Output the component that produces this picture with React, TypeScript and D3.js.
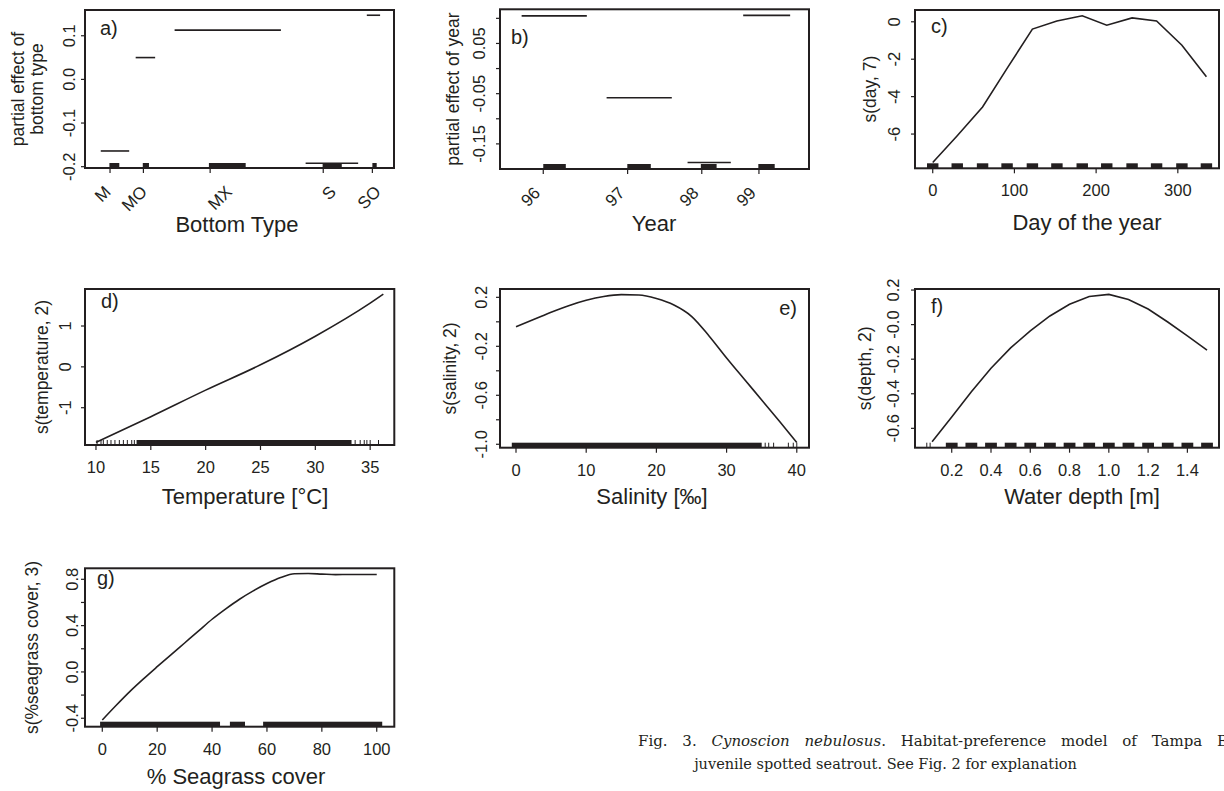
import React from "react";
import * as d3 from "d3";

const INK = "#231f20";
const SANS = "'Liberation Sans', Arial, Helvetica, sans-serif";
const SERIF = "'DejaVu Serif', serif";

// a) bottom type, x in relative position units (0-100 across the panel)
const bottomTypes = ["M", "MO", "MX", "S", "SO"];
const bottomTickPos = [8.1, 18.9, 40.5, 77.1, 93.0];
const bottomLabelPos = [8.7, 20.4, 47.9, 81.6, 96.1];
const bottomEffect = [-0.164, 0.05, 0.113, -0.192, 0.147];
const bottomSegStart = [5.1, 16.4, 29.0, 71.4, 91.2];
const bottomSegEnd = [14.3, 22.7, 63.4, 88.4, 95.5];
const bottomRugStart = [7.9, 18.7, 40.1, 76.9, 93.0];
const bottomRugEnd = [11.1, 20.7, 52.0, 83.1, 94.4];

// b) year
const years = ["96", "97", "98", "99"];
const yearTickPos = [14.0, 41.3, 65.3, 83.8];
const yearEffect = [0.105, -0.058, -0.187, 0.106];
const yearSegStart = [7.0, 34.5, 60.7, 78.7];
const yearSegEnd = [28.1, 55.6, 74.7, 93.9];
const yearRugStart = [14.0, 41.2, 65.0, 83.6];
const yearRugEnd = [21.3, 48.8, 70.1, 88.9];

// c) day of the year
const dayOfYear = [0, 30, 61, 91, 122, 152, 183, 213, 244, 274, 305, 335];
const dayEffect = [-7.52, -6.09, -4.55, -2.49, -0.39, 0.04, 0.32, -0.18, 0.21, 0.04, -1.25, -2.94];

// d) temperature
const tempX = [10, 15, 20, 25, 30, 35, 36.2];
const tempY = [-1.85, -1.22, -0.57, 0.05, 0.75, 1.56, 1.78];
const tempRugBands = [[13.7, 33.3]];
const tempRugTicks = [10.1, 10.46, 10.67, 11.03, 11.37, 11.73, 12.13, 12.5, 12.86, 13.26, 13.5,
  33.63, 34.09, 34.46, 34.7, 35.0, 35.76];

// e) salinity
const salX = [0, 2.5, 5, 7.5, 10, 12.5, 15, 17.5, 20, 22.5, 25, 27.5, 30, 32.5, 35, 37.5, 40];
const salY = [-0.04, 0.018, 0.078, 0.132, 0.176, 0.207, 0.222, 0.219, 0.19, 0.137, 0.045, -0.115,
  -0.295, -0.467, -0.638, -0.81, -0.985];
const salRugBands = [[-0.6, 35.0]];
const salRugTicks = [35.5, 36.0, 36.7, 38.8, 39.5, 40.0];

// f) water depth
const depthX = [0.1, 0.2, 0.3, 0.4, 0.5, 0.6, 0.7, 0.8, 0.9, 1.0, 1.1, 1.2, 1.3, 1.4, 1.5];
const depthY = [-0.678, -0.535, -0.388, -0.252, -0.135, -0.036, 0.05, 0.118, 0.163, 0.175, 0.145,
  0.09, 0.015, -0.065, -0.147];
const depthRugCenters = [0.2, 0.3, 0.4, 0.5, 0.6, 0.7, 0.8, 0.9, 1.0, 1.1, 1.2, 1.3, 1.4, 1.5];
const depthRugTicks = [0.073, 0.09];

// g) seagrass cover
const seaX = [0, 5, 10, 15, 20, 25, 30, 35, 40, 45, 50, 55, 60, 65, 70, 75, 80, 85, 90, 95, 100];
const seaY = [-0.415, -0.29, -0.17, -0.06, 0.045, 0.148, 0.25, 0.352, 0.455, 0.545, 0.628, 0.7,
  0.763, 0.815, 0.848, 0.85, 0.845, 0.84, 0.842, 0.842, 0.842];
const seaRugBands = [[-0.8, 42.9], [46.5, 52.0], [58.6, 102.0]];

// R prints a plain hyphen, not d3's unicode minus
const fmt1 = (v: number) => d3.format(".1f")(v).replace("\u2212", "-");
const fmt2 = (v: number) => d3.format(".2f")(v).replace("\u2212", "-");

function Panel(p: any) {
  const x = d3.scaleLinear().domain(p.xDomain).range([p.left, p.right]);
  const y = d3.scaleLinear().domain(p.yDomain).range([p.bottom, p.top]);
  const rugH = 5;
  const mid = (p.top + p.bottom) / 2;
  const lineGen = d3
    .line<number>()
    .x((_, i) => x(p.curveX[i]))
    .y((d) => y(d))
    .curve(p.smooth ? d3.curveMonotoneX : d3.curveLinear);

  return (
    <g>
      {/* rug */}
      {(p.rugBands || []).map((b: number[], i: number) => (
        <rect key={"rb" + i} x={x(b[0])} y={p.bottom - rugH} width={x(b[1]) - x(b[0])} height={rugH} fill={INK} />
      ))}
      {(p.rugTicks || []).map((v: number, i: number) => (
        <line key={"rt" + i} x1={x(v)} x2={x(v)} y1={p.bottom} y2={p.bottom - rugH} stroke={INK} strokeWidth={1} />
      ))}

      {/* fitted term */}
      {p.curveY && <path d={lineGen(p.curveY) || ""} fill="none" stroke={INK} strokeWidth={1.6} />}
      {p.segY &&
        p.segY.map((v: number, i: number) => (
          <line key={"s" + i} x1={x(p.segX0[i])} x2={x(p.segX1[i])} y1={y(v)} y2={y(v)} stroke={INK} strokeWidth={1.6} />
        ))}

      {/* box */}
      <rect x={p.left} y={p.top} width={p.right - p.left} height={p.bottom - p.top} fill="none" stroke={INK} strokeWidth={2} />

      {/* x axis */}
      {p.xTicks.map((v: number, i: number) => (
        <line key={"xt" + i} x1={x(v)} x2={x(v)} y1={p.bottom} y2={p.bottom + 5} stroke={INK} strokeWidth={1.2} />
      ))}
      {p.rotateX
        ? p.xText.map((t: string, i: number) => (
            <text
              key={"xl" + i}
              transform={`translate(${x(p.xTextPos[i]) + (p.xTextDx || 0)},${p.bottom + 25}) rotate(-45)`}
              textAnchor="end"
              fontSize={17}
            >
              {t}
            </text>
          ))
        : p.xTicks.map((v: number, i: number) => (
            <text key={"xl" + i} x={x(v)} y={p.bottom + 28} textAnchor="middle" fontSize={16.5}>
              {p.xText[i]}
            </text>
          ))}
      <text x={p.xTitleX} y={p.xTitleY} textAnchor="middle" fontSize={22}>
        {p.xTitle}
      </text>

      {/* y axis */}
      {p.yTicks.map((v: number, i: number) => (
        <line key={"yt" + i} x1={p.left - 4} x2={p.left} y1={y(v)} y2={y(v)} stroke={INK} strokeWidth={1.2} />
      ))}
      {p.yLabelVals.map((v: number, i: number) => (
        <text
          key={"yl" + i}
          transform={`translate(${p.left - p.yGap},${y(v)}) rotate(-90)`}
          textAnchor="middle"
          fontSize={16.5}
        >
          {p.yLabelText[i]}
        </text>
      ))}
      {p.yTitle.map((t: string, i: number) => (
        <text
          key={"ytt" + i}
          transform={`translate(${p.left - p.yTitleOff[i]},${mid}) rotate(-90)`}
          textAnchor="middle"
          fontSize={17.5}
        >
          {t}
        </text>
      ))}

      {/* panel tag */}
      <text x={p.tagX} y={p.tagY} textAnchor={p.tagAnchor || "start"} fontSize={20}>
        {p.tag}
      </text>
    </g>
  );
}

export default function App() {
  const bVals = [-0.15, -0.05, 0.05];
  return (
    <svg
      width={1224}
      height={791}
      style={{ position: "absolute", left: 0, top: 0, background: "#fff" }}
      fontFamily={SANS}
      fill={INK}
    >
      {/* a) */}
      <Panel
        left={85} right={394} top={10} bottom={168}
        xDomain={[0, 100]} yDomain={[-0.203, 0.159]}
        segX0={bottomSegStart} segX1={bottomSegEnd} segY={bottomEffect}
        rugBands={bottomRugStart.map((s, i) => [s, bottomRugEnd[i]])}
        xTicks={bottomTickPos} xText={bottomTypes} xTextPos={bottomLabelPos} rotateX
        xTitle="Bottom Type" xTitleX={237} xTitleY={231.5}
        yTicks={[-0.2, -0.1, 0, 0.1]} yLabelVals={[-0.2, -0.1, 0, 0.1]}
        yLabelText={[-0.2, -0.1, 0, 0.1].map(fmt1)} yGap={10}
        yTitle={["partial effect of", "bottom type"]} yTitleOff={[61, 42]}
        tag="a)" tagX={100} tagY={35}
      />
      {/* b) */}
      <Panel
        left={500} right={809} top={9.3} bottom={169}
        xDomain={[0, 100]} yDomain={[-0.2, 0.118]}
        segX0={yearSegStart} segX1={yearSegEnd} segY={yearEffect}
        rugBands={yearRugStart.map((s, i) => [s, yearRugEnd[i]])}
        xTicks={yearTickPos} xText={years} xTextPos={yearTickPos} xTextDx={-2} rotateX
        xTitle="Year" xTitleX={654} xTitleY={230.5}
        yTicks={[-0.15, -0.1, -0.05, 0, 0.05, 0.1]} yLabelVals={bVals}
        yLabelText={bVals.map(fmt2)} yGap={15}
        yTitle={["partial effect of year"]} yTitleOff={[41]}
        tag="b)" tagX={511} tagY={44}
      />
      {/* c) */}
      <Panel
        left={915} right={1219} top={10} bottom={168.3}
        xDomain={[-21.7, 350.4]} yDomain={[-7.83, 0.63]}
        curveX={dayOfYear} curveY={dayEffect}
        rugBands={dayOfYear.map((d) => [d - 7, d + 7])}
        xTicks={[0, 100, 200, 300]} xText={["0", "100", "200", "300"]}
        xTitle="Day of the year" xTitleX={1087} xTitleY={230}
        yTicks={[-6, -4, -2, 0]} yLabelVals={[-6, -4, -2, 0]}
        yLabelText={["-6", "-4", "-2", "0"]} yGap={15}
        yTitle={["s(day, 7)"]} yTitleOff={[39]}
        tag="c)" tagX={931} tagY={32.5}
      />
      {/* d) */}
      <Panel
        left={85} right={394.3} top={289} bottom={445}
        xDomain={[9.0, 37.2]} yDomain={[-1.913, 1.906]}
        curveX={tempX} curveY={tempY} smooth
        rugBands={tempRugBands} rugTicks={tempRugTicks}
        xTicks={[10, 15, 20, 25, 30, 35]} xText={["10", "15", "20", "25", "30", "35"]}
        xTitle="Temperature [°C]" xTitleX={245} xTitleY={504}
        yTicks={[-1, 0, 1]} yLabelVals={[-1, 0, 1]}
        yLabelText={["-1", "0", "1"]} yGap={14}
        yTitle={["s(temperature, 2)"]} yTitleOff={[37]}
        tag="d)" tagX={101} tagY={307.5}
      />
      {/* e) */}
      <Panel
        left={500} right={809} top={289} bottom={447.7}
        xDomain={[-2.28, 41.74]} yDomain={[-1.028, 0.268]}
        curveX={salX} curveY={salY} smooth
        rugBands={salRugBands} rugTicks={salRugTicks}
        xTicks={[0, 10, 20, 30, 40]} xText={["0", "10", "20", "30", "40"]}
        xTitle="Salinity [‰]" xTitleX={652} xTitleY={504}
        yTicks={[-1.0, -0.8, -0.6, -0.4, -0.2, 0, 0.2]} yLabelVals={[-1.0, -0.6, -0.2, 0.2]}
        yLabelText={[-1.0, -0.6, -0.2, 0.2].map(fmt1)} yGap={13}
        yTitle={["s(salinity, 2)"]} yTitleOff={[44]}
        tag="e)" tagX={797} tagY={315} tagAnchor="end"
      />
      {/* f) */}
      <Panel
        left={915} right={1219} top={289} bottom={447.7}
        xDomain={[0.013, 1.561]} yDomain={[-0.712, 0.206]}
        curveX={depthX} curveY={depthY}
        rugBands={depthRugCenters.map((c) => [c - 0.03, c + 0.03])} rugTicks={depthRugTicks}
        xTicks={[0.2, 0.4, 0.6, 0.8, 1.0, 1.2, 1.4]} xText={[0.2, 0.4, 0.6, 0.8, 1.0, 1.2, 1.4].map(fmt1)}
        xTitle="Water depth [m]" xTitleX={1082} xTitleY={504}
        yTicks={[-0.6, -0.4, -0.2, 0, 0.2]} yLabelVals={[-0.6, -0.4, -0.2, 0, 0.2]}
        yLabelText={["-0.6", "-0.4", "-0.2", "-0.0", "0.2"]} yGap={16.5}
        yTitle={["s(depth, 2)"]} yTitleOff={[44]}
        tag="f)" tagX={931} tagY={312.5}
      />
      {/* g) */}
      <Panel
        left={85} right={394.3} top={568.3} bottom={726.7}
        xDomain={[-6.3, 106.4]} yDomain={[-0.473, 0.895]}
        curveX={seaX} curveY={seaY} smooth
        rugBands={seaRugBands}
        xTicks={[0, 20, 40, 60, 80, 100]} xText={["0", "20", "40", "60", "80", "100"]}
        xTitle="% Seagrass cover" xTitleX={236} xTitleY={784}
        yTicks={[-0.4, -0.2, 0, 0.2, 0.4, 0.6, 0.8]} yLabelVals={[-0.4, 0, 0.4, 0.8]}
        yLabelText={[-0.4, 0, 0.4, 0.8].map(fmt1)} yGap={7.5}
        yTitle={["s(%seagrass cover, 3)"]} yTitleOff={[47]}
        tag="g)" tagX={97} tagY={585}
      />

      {/* caption */}
      <text x={638} y={746} fontFamily={SERIF} fontSize={15} wordSpacing={10}>
        <tspan>Fig. 3. </tspan>
        <tspan fontStyle="italic">Cynoscion nebulosus</tspan>
        <tspan>. Habitat-preference model of Tampa B</tspan>
      </text>
      <text x={885.5} y={769} fontFamily={SERIF} fontSize={14.5} textAnchor="middle">
        juvenile spotted seatrout. See Fig. 2 for explanation
      </text>
    </svg>
  );
}
